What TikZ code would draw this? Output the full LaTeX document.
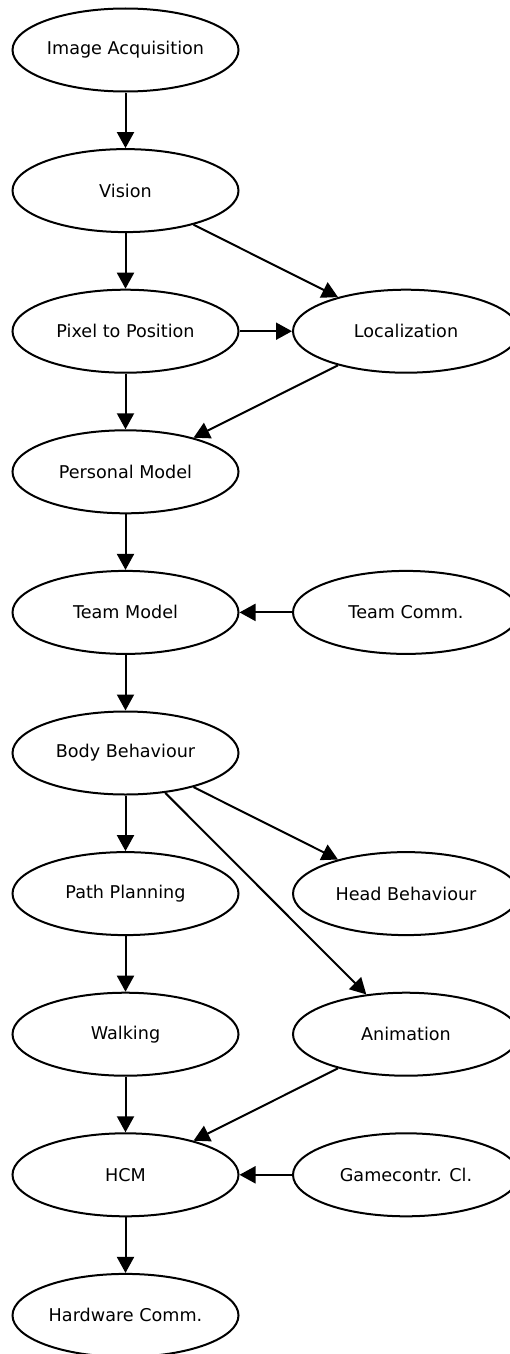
\documentclass[tikz,border=0pt]{standalone}
\usepackage{fontspec}
\setmainfont{DejaVu Sans}
\usetikzlibrary{shapes.geometric,arrows.meta}
\begin{document}
\begin{tikzpicture}[x=1pt,y=1pt,
  module/.style={ellipse,draw,line width=2pt,inner sep=0pt,
    minimum width=226pt,minimum height=83pt,
    font=\fontsize{17.6}{20}\selectfont},
  flow/.style={line width=2pt,-{Triangle[length=16pt,width=17pt]}}]
\clip (0,0) rectangle (510,-1354);
\useasboundingbox (0,0) rectangle (510,-1354);
% left column
\node[module] (acq)  at (125.5,-50)    {Image Acquisition};
\node[module] (vis)  at (125.5,-190.6) {Vision};
\node[module] (p2p)  at (125.5,-331.2) {Pixel to Position};
\node[module] (pm)   at (125.5,-471.8) {Personal Model};
\node[module] (tm)   at (125.5,-612.4) {Team Model};
\node[module] (bb)   at (125.5,-753)   {Body Behaviour};
\node[module] (pp)   at (125.5,-893.6) {Path Planning};
\node[module] (walk) at (125.5,-1034.2){Walking};
\node[module] (hcm)  at (125.5,-1174.8){HCM};
\node[module] (hw)   at (125.5,-1315.4){Hardware Comm.};
% right column
\node[module] (loc)  at (406,-331.2)  {Localization};
\node[module] (tc)   at (406,-612.4)  {Team Comm.};
\node[module] (hb)   at (406,-893.6)  {Head Behaviour};
\node[module] (anim) at (406,-1034.2) {Animation};
\node[module] (gc)   at (406,-1174.8) {Gamecontr. Cl.};
% data flow
\draw[flow] (acq) -- (vis);
\draw[flow] (vis) -- (p2p);
\draw[flow] (vis) -- (loc);
\draw[flow] (p2p) -- (loc);
\draw[flow] (p2p) -- (pm);
\draw[flow] (loc) -- (pm);
\draw[flow] (pm) -- (tm);
\draw[flow] (tc) -- (tm);
\draw[flow] (tm) -- (bb);
\draw[flow] (bb) -- (pp);
\draw[flow] (bb) -- (hb);
\draw[flow] (bb) -- (anim);
\draw[flow] (pp) -- (walk);
\draw[flow] (walk) -- (hcm);
\draw[flow] (anim) -- (hcm);
\draw[flow] (gc) -- (hcm);
\draw[flow] (hcm) -- (hw);
\end{tikzpicture}
\end{document}
